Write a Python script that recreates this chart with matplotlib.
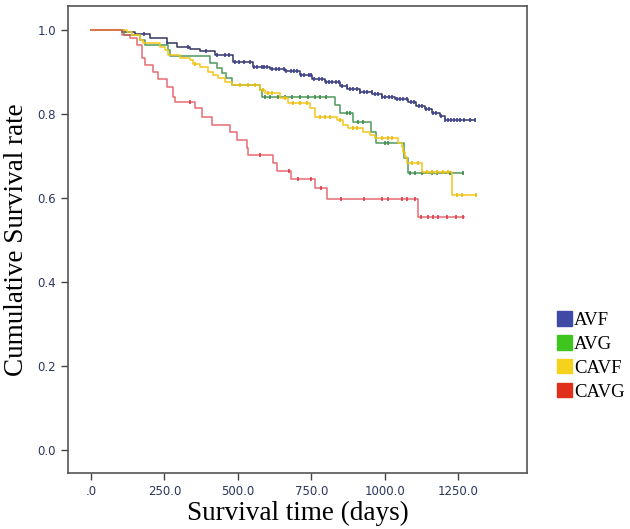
import numpy as np
import matplotlib
matplotlib.use("Agg")
import matplotlib.pyplot as plt
from matplotlib.patches import Patch

groups = ["AVF", "AVG", "CAVF", "CAVG"]

# Kaplan-Meier steps: event times (days) and survival after each step
avf_t = [0, 105, 150, 201, 258, 293, 337, 371, 422, 483, 551, 609, 660, 711, 752, 796,
         847, 871, 915, 956, 990, 1034, 1078, 1105, 1136, 1160, 1187, 1204]
avf_s = [1.0, 0.995, 0.990, 0.981, 0.969, 0.960, 0.955, 0.950, 0.940, 0.924, 0.912, 0.907,
         0.903, 0.893, 0.883, 0.876, 0.867, 0.860, 0.852, 0.847, 0.840, 0.835, 0.829, 0.819,
         0.812, 0.802, 0.795, 0.785]
avf_end = 1306
avf_cens = [180, 260, 330, 390, 430, 455, 470, 490, 505, 520, 540, 555, 565, 580, 590, 600,
            615, 630, 640, 655, 665, 680, 690, 700, 715, 725, 740, 750, 760, 775, 785, 800,
            810, 820, 835, 845, 855, 870, 880, 890, 905, 915, 930, 940, 955, 965, 975, 990,
            1000, 1015, 1025, 1040, 1050, 1060, 1075, 1090, 1100, 1115, 1125, 1140, 1150,
            1165, 1175, 1190, 1205, 1215, 1225, 1235, 1245, 1255, 1270, 1290, 1306]

avg_t = [0, 112, 167, 184, 262, 269, 405, 429, 446, 459, 480, 575, 582, 830, 847, 891,
         952, 969, 1065, 1078]
avg_s = [1.0, 0.988, 0.976, 0.964, 0.952, 0.938, 0.921, 0.910, 0.898, 0.886, 0.869, 0.857,
         0.840, 0.821, 0.802, 0.781, 0.757, 0.731, 0.695, 0.659]
avg_end = 1265
avg_cens = [592, 609, 636, 660, 684, 711, 738, 762, 779, 799, 871, 881, 908, 925, 1000,
            1010, 1085, 1102, 1126, 1160, 1177, 1221, 1265]

cavf_t = [0, 122, 139, 167, 177, 235, 252, 262, 303, 337, 347, 371, 398, 415, 432, 456,
          480, 575, 592, 643, 670, 745, 762, 837, 857, 874, 925, 949, 966, 1044, 1058,
          1061, 1068, 1075, 1126, 1228]
cavf_s = [1.0, 0.995, 0.988, 0.976, 0.969, 0.960, 0.952, 0.940, 0.933, 0.929, 0.919, 0.912,
          0.900, 0.893, 0.886, 0.876, 0.869, 0.857, 0.850, 0.838, 0.826, 0.814, 0.793,
          0.786, 0.774, 0.767, 0.757, 0.750, 0.743, 0.731, 0.721, 0.710, 0.698, 0.683,
          0.662, 0.607]
cavf_end = 1310
cavf_cens = [354, 507, 534, 558, 585, 602, 616, 660, 687, 711, 735, 779, 796, 813, 847,
             891, 905, 990, 1010, 1024, 1092, 1112, 1143, 1160, 1177, 1197, 1214, 1245,
             1262, 1310]

cavg_t = [0, 105, 133, 156, 173, 184, 211, 228, 258, 279, 286, 354, 378, 412, 473, 497,
          531, 534, 619, 633, 680, 762, 803, 1112]
cavg_s = [1.0, 0.989, 0.981, 0.964, 0.933, 0.917, 0.900, 0.883, 0.864, 0.840, 0.829, 0.814,
          0.793, 0.774, 0.757, 0.738, 0.719, 0.702, 0.683, 0.664, 0.645, 0.624, 0.598, 0.555]
cavg_end = 1269
cavg_cens = [337, 575, 673, 704, 748, 782, 850, 929, 990, 1010, 1058, 1075, 1102, 1122,
             1146, 1163, 1180, 1211, 1241, 1265]

x_ticks = [0, 250, 500, 750, 1000, 1250]
x_ticklabels = [".0", "250.0", "500.0", "750.0", "1000.0", "1250.0"]
y_ticks = [0.0, 0.2, 0.4, 0.6, 0.8, 1.0]
y_ticklabels = ["0.0", "0.2", "0.4", "0.6", "0.8", "1.0"]

line_colors = ["#34345c", "#4e9a5e", "#f2c61c", "#e2505a"]
mark_colors = ["#3d4399", "#3f8a4e", "#e8bc10", "#d8404a"]
legend_colors = ["#3e4aa6", "#40c420", "#f4d21e", "#e0301c"]

fig = plt.figure(figsize=(6.30, 5.29), dpi=100)
ax = fig.add_axes([0.108, 0.106, 0.7285, 0.8827])

data = [(avf_t, avf_s, avf_end, avf_cens), (avg_t, avg_s, avg_end, avg_cens),
        (cavf_t, cavf_s, cavf_end, cavf_cens), (cavg_t, cavg_s, cavg_end, cavg_cens)]

for i, (t, s, end, cens) in enumerate(data):
    tt = list(t) + [end]
    ss = list(s) + [s[-1]]
    ax.step(tt, ss, where="post", color=line_colors[i], lw=1.1,
            alpha=0.85 if i == 3 else 1.0, zorder=2 + i)
    idx = np.searchsorted(np.array(t), np.array(cens), side="right") - 1
    cs = np.array(s)[idx]
    ax.plot(cens, cs, linestyle="none", marker="|", markersize=3, mew=1.2,
            color=mark_colors[i], zorder=2 + i)

ax.set_xlim(-78, 1483)
ax.set_ylim(-0.055, 1.057)
ax.set_xticks(x_ticks)
ax.set_xticklabels(x_ticklabels)
ax.set_yticks(y_ticks)
ax.set_yticklabels(y_ticklabels)
ax.tick_params(axis="both", direction="out", length=5, width=1.0, color="#444444",
               labelsize=8.5, labelcolor="#2a3560")
for sp in ax.spines.values():
    sp.set_color("#555555")
    sp.set_linewidth(1.2)

serif = ["Liberation Serif", "DejaVu Serif"]
ax.set_xlabel("Survival time (days)", family=serif, fontsize=19.5, labelpad=2)
ax.set_ylabel("Cumulative Survival rate", family=serif, fontsize=19.5, labelpad=6)

handles = [Patch(facecolor=c, edgecolor=c) for c in legend_colors]
fig.legend(handles, groups, loc="center left", bbox_to_anchor=(0.857, 0.327),
           frameon=False, prop={"family": serif, "size": 13.5}, handlelength=0.8,
           handleheight=0.8, handletextpad=0.12, labelspacing=0.33, borderpad=0.4)

fig.savefig("out.png", dpi=100)
